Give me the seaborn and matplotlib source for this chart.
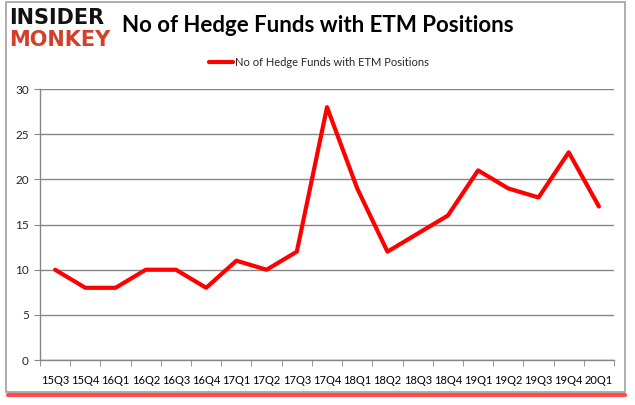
import numpy as np
import pandas as pd
import seaborn as sns
import matplotlib.pyplot as plt
from matplotlib.patches import Rectangle
from matplotlib.lines import Line2D

# datos del grafico
quarters = ["15Q3", "15Q4", "16Q1", "16Q2", "16Q3", "16Q4", "17Q1", "17Q2", "17Q3", "17Q4",
            "18Q1", "18Q2", "18Q3", "18Q4", "19Q1", "19Q2", "19Q3", "19Q4", "20Q1"]
funds = [10, 8, 8, 10, 10, 8, 11, 10, 12, 28, 19, 12, 14, 16, 21, 19, 18, 23, 17]
y_ticks = [0, 5, 10, 15, 20, 25, 30]
series_name = "No of Hedge Funds with ETM Positions"

df = pd.DataFrame({"quarter": quarters, "funds": funds})
df["pos"] = np.arange(len(quarters))

sns.set_style("white")
plt.rcParams['font.family'] = ['Lato', 'DejaVu Sans']

fig = plt.figure(figsize=(6.35, 4.05), dpi=100)
ax = fig.add_axes([0.063, 0.111, 0.904, 0.669])

# marco exterior con sombra roja
fig.patches.append(Rectangle((6 / 635, 1 - 392 / 405), 619 / 635, 390 / 405,
                             transform=fig.transFigure, fill=False,
                             edgecolor="#a0a0a0", linewidth=1.2, zorder=0))
fig.lines.append(Line2D([8 / 635, 625 / 635], [1 - 395 / 405, 1 - 395 / 405],
                        transform=fig.transFigure, color="#ff2020",
                        linewidth=3, alpha=0.8))

sns.lineplot(data=df, x="pos", y="funds", ax=ax, color="#ff0000",
             linewidth=3, label=series_name, legend=False)

ax.set_xlim(-0.5, len(quarters) - 0.5)
ax.set_ylim(0, 30)
ax.set_yticks(y_ticks)
ax.set_xticks(df["pos"])
ax.set_xticklabels(quarters)
ax.set_xticks(np.arange(-0.5, len(quarters)), minor=True)
ax.tick_params(axis="x", which="major", length=0, pad=11, labelsize=8, colors="#000000")
ax.tick_params(axis="x", which="minor", length=4, color="#868686", direction="out")
ax.tick_params(axis="y", length=4, color="#868686", direction="out", labelsize=8.5, pad=4)
ax.xaxis.set_ticks_position("bottom")
ax.yaxis.set_ticks_position("left")
ax.grid(axis="y", color="#868686", linewidth=1)
ax.grid(axis="x", visible=False)
for s in ["top", "right"]:
    ax.spines[s].set_visible(False)
for s in ["left", "bottom"]:
    ax.spines[s].set_color("#868686")
    ax.spines[s].set_linewidth(1)
ax.set_xlabel("")
ax.set_ylabel("")

# titulo y leyenda
fig.text(318 / 635, 1 - 25 / 405, "No of Hedge Funds with ETM Positions", ha="center", va="center",
         fontsize=16, fontweight="bold", color="#000000")
leg = ax.legend(loc="center", bbox_to_anchor=(319 / 635, 1 - 62 / 405),
                bbox_transform=fig.transFigure, frameon=False, fontsize=8,
                handlelength=2.2, handletextpad=0.2)

# logo
fig.text(9 / 635, 1 - 18 / 405, "INSIDER", ha="left", va="center", fontsize=15,
         fontweight="heavy", color="#111111", family="DejaVu Sans")
fig.text(9 / 635, 1 - 40 / 405, "MONKEY", ha="left", va="center", fontsize=15,
         fontweight="heavy", color="#d23f2a", family="DejaVu Sans")

fig.savefig("out.png", dpi=100)
